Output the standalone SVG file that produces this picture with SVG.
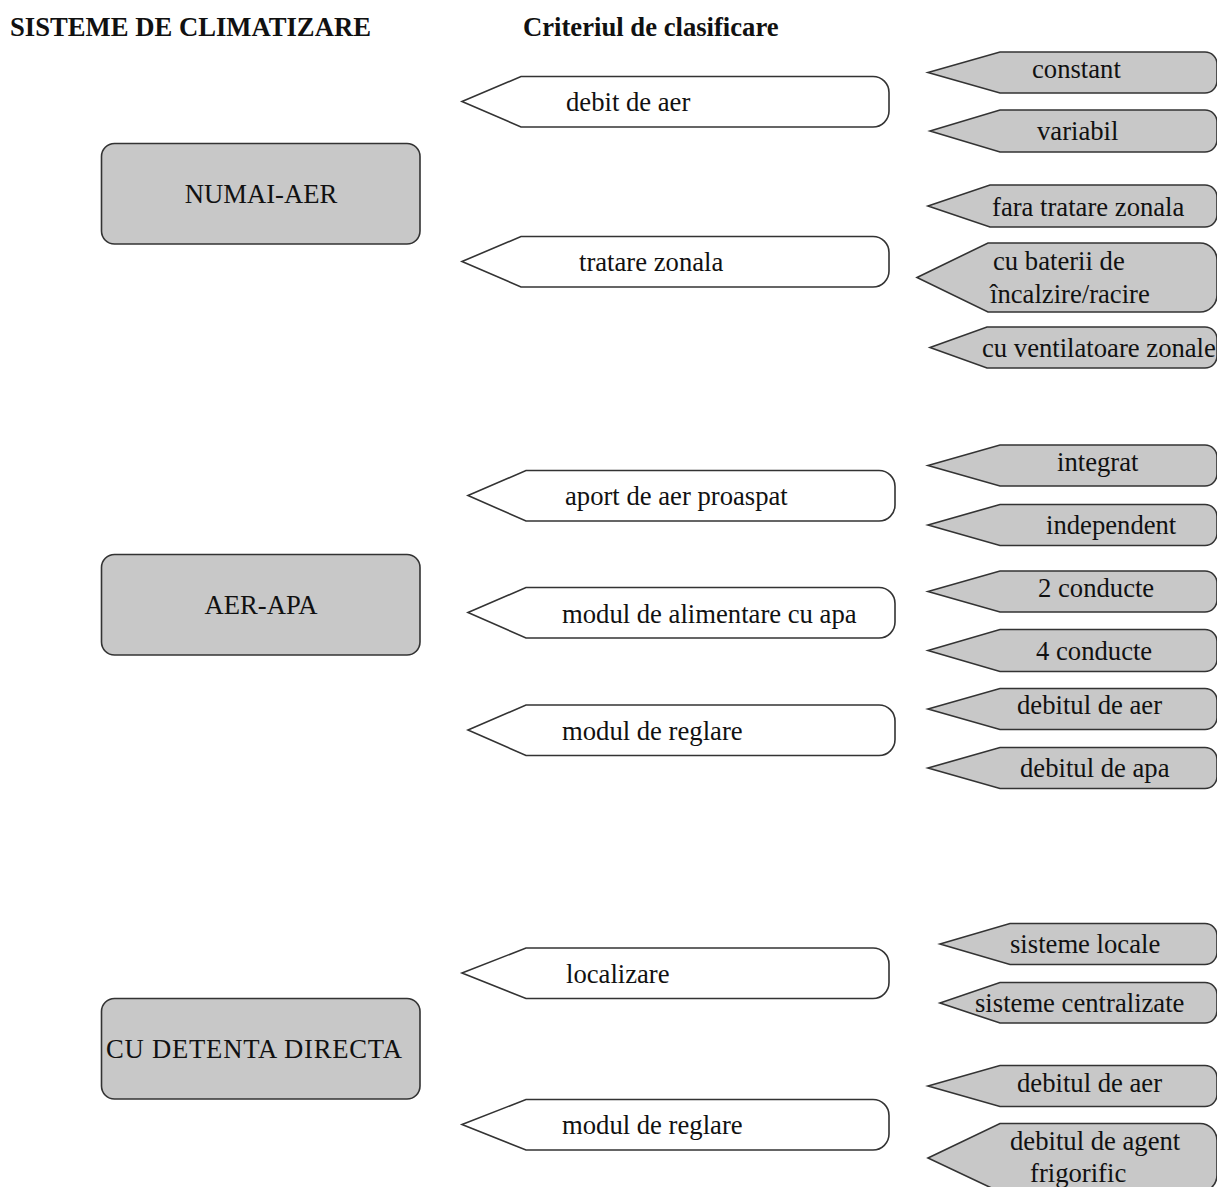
<svg xmlns="http://www.w3.org/2000/svg" width="1217" height="1187" viewBox="0 0 1217 1187">
<style>
text{font-size:26.67px;fill:#111}
.title{font-weight:bold}
.main{fill:#c8c8c8;stroke:#333;stroke-width:1.6}
.crit{fill:#fff;stroke:#333;stroke-width:1.6}
.opt{fill:#c8c8c8;stroke:#333;stroke-width:1.6}
</style>
<rect width="1217" height="1187" fill="#fff"/>
<g font-family="'Liberation Serif', Tinos, 'Times New Roman', 'DejaVu Serif', serif">
<text class="title" x="10" y="36">SISTEME DE CLIMATIZARE</text>
<text class="title" x="523" y="36">Criteriul de clasificare</text>

<g id="main-numai-aer"><rect class="main" x="101.5" y="143.5" width="318.5" height="100.5" rx="13"/><text x="261" y="203" text-anchor="middle">NUMAI-AER</text></g>
<g id="main-aer-apa"><rect class="main" x="101.5" y="554.5" width="318.5" height="100.5" rx="13"/><text x="261" y="614" text-anchor="middle">AER-APA</text></g>
<g id="main-detenta"><rect class="main" x="101.5" y="998.5" width="318.5" height="100.5" rx="13"/><text x="106" y="1058" textLength="296" lengthAdjust="spacing">CU DETENTA DIRECTA</text></g>

<g id="crit-debit"><path class="crit" d="M462,101.5 L521,76.5 H873 A16,16 0 0 1 889,92.5 V111 A16,16 0 0 1 873,127 H521 Z"/><text x="566" y="111">debit de aer</text></g>
<g id="crit-tratare"><path class="crit" d="M462,261.5 L521,236.5 H873 A16,16 0 0 1 889,252.5 V271 A16,16 0 0 1 873,287 H521 Z"/><text x="579" y="271">tratare zonala</text></g>
<g id="crit-aport"><path class="crit" d="M468,495.5 L526,470.5 H879 A16,16 0 0 1 895,486.5 V505 A16,16 0 0 1 879,521 H526 Z"/><text x="565" y="505">aport de aer proaspat</text></g>
<g id="crit-alimentare"><path class="crit" d="M468,612.5 L526,587.5 H879 A16,16 0 0 1 895,603.5 V622 A16,16 0 0 1 879,638 H526 Z"/><text x="562" y="623">modul de alimentare cu apa</text></g>
<g id="crit-reglare1"><path class="crit" d="M468,730 L526,705 H879 A16,16 0 0 1 895,721 V739.5 A16,16 0 0 1 879,755.5 H526 Z"/><text x="562" y="740">modul de reglare</text></g>
<g id="crit-localizare"><path class="crit" d="M462,973 L526,948 H873 A16,16 0 0 1 889,964 V982.5 A16,16 0 0 1 873,998.5 H526 Z"/><text x="566" y="983">localizare</text></g>
<g id="crit-reglare2"><path class="crit" d="M462,1124.5 L526,1099.5 H873 A16,16 0 0 1 889,1115.5 V1134 A16,16 0 0 1 873,1150 H526 Z"/><text x="562" y="1134">modul de reglare</text></g>

<g id="opt-constant"><path class="opt" d="M928,72.5 L1000,52 H1205 A12,12 0 0 1 1217,64 V81 A12,12 0 0 1 1205,93 H1000 Z"/><text x="1032" y="78">constant</text></g>
<g id="opt-variabil"><path class="opt" d="M930,131 L1000,110 H1205 A12,12 0 0 1 1217,122 V140 A12,12 0 0 1 1205,152 H1000 Z"/><text x="1037" y="140">variabil</text></g>
<g id="opt-fara"><path class="opt" d="M928,206 L990,185 H1205 A12,12 0 0 1 1217,197 V215 A12,12 0 0 1 1205,227 H990 Z"/><text x="992" y="216">fara tratare zonala</text></g>
<g id="opt-baterii"><path class="opt" d="M917,277.5 L988,243 H1200 A17,17 0 0 1 1217,260 V295 A17,17 0 0 1 1200,312 H988 Z"/><text x="993" y="270">cu baterii de</text><text x="990" y="303">încalzire/racire</text></g>
<g id="opt-ventilatoare"><path class="opt" d="M930,347.5 L987,327 H1205 A12,12 0 0 1 1217,339 V356 A12,12 0 0 1 1205,368 H987 Z"/><text x="982" y="357">cu ventilatoare zonale</text></g>

<g id="opt-integrat"><path class="opt" d="M928,465.5 L1000,445 H1205 A12,12 0 0 1 1217,457 V474 A12,12 0 0 1 1205,486 H1000 Z"/><text x="1057" y="471">integrat</text></g>
<g id="opt-independent"><path class="opt" d="M928,525 L1000,504.5 H1205 A12,12 0 0 1 1217,516.5 V533.5 A12,12 0 0 1 1205,545.5 H1000 Z"/><text x="1046" y="534">independent</text></g>
<g id="opt-2conducte"><path class="opt" d="M928,591.5 L1000,571 H1205 A12,12 0 0 1 1217,583 V600 A12,12 0 0 1 1205,612 H1000 Z"/><text x="1038" y="597">2 conducte</text></g>
<g id="opt-4conducte"><path class="opt" d="M928,650.5 L1000,629.5 H1205 A12,12 0 0 1 1217,641.5 V659.5 A12,12 0 0 1 1205,671.5 H1000 Z"/><text x="1036" y="660">4 conducte</text></g>
<g id="opt-debitaer1"><path class="opt" d="M928,709 L1000,688.5 H1205 A12,12 0 0 1 1217,700.5 V717.5 A12,12 0 0 1 1205,729.5 H1000 Z"/><text x="1017" y="714">debitul de aer</text></g>
<g id="opt-debitapa"><path class="opt" d="M928,768 L1000,747.5 H1205 A12,12 0 0 1 1217,759.5 V776.5 A12,12 0 0 1 1205,788.5 H1000 Z"/><text x="1020" y="777">debitul de apa</text></g>

<g id="opt-locale"><path class="opt" d="M940,944 L1010,923.5 H1205 A12,12 0 0 1 1217,935.5 V952.5 A12,12 0 0 1 1205,964.5 H1010 Z"/><text x="1010" y="953">sisteme locale</text></g>
<g id="opt-centralizate"><path class="opt" d="M940,1003 L1000,982.5 H1205 A12,12 0 0 1 1217,994.5 V1011 A12,12 0 0 1 1205,1023 H1000 Z"/><text x="975" y="1012">sisteme centralizate</text></g>
<g id="opt-debitaer2"><path class="opt" d="M928,1086 L1000,1065.5 H1205 A12,12 0 0 1 1217,1077.5 V1094.5 A12,12 0 0 1 1205,1106.5 H1000 Z"/><text x="1017" y="1092">debitul de aer</text></g>
<g id="opt-agent"><path class="opt" d="M928,1158 L1000,1123.5 H1200 A17,17 0 0 1 1217,1140.5 V1175 A17,17 0 0 1 1200,1192 H1000 Z"/><text x="1010" y="1150">debitul de agent</text><text x="1030" y="1182">frigorific</text></g>
</g>
<g id="connectors"/>
</svg>
